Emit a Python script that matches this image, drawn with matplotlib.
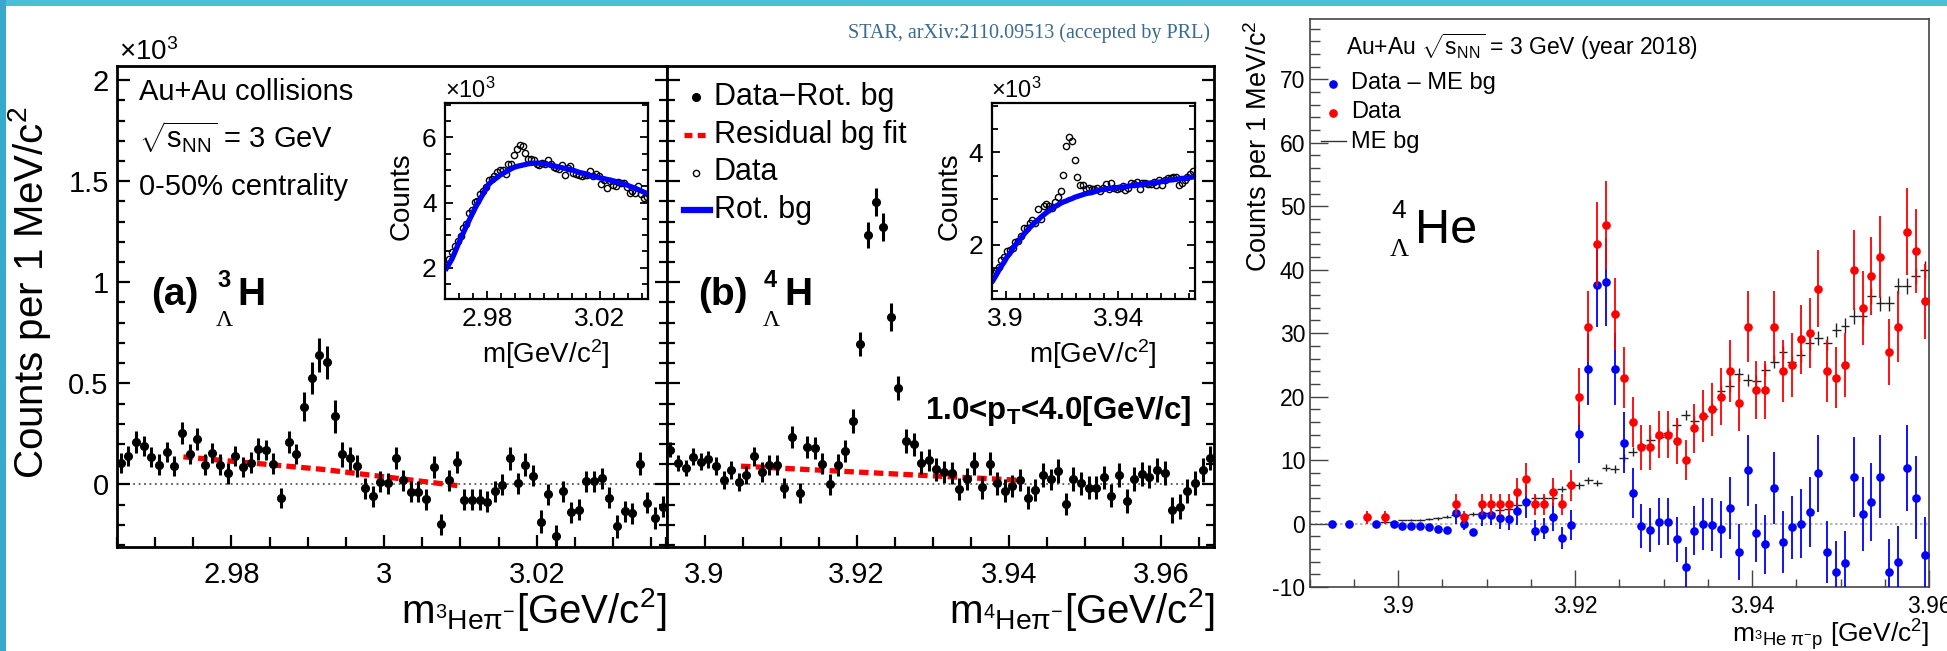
import numpy as np
import matplotlib
matplotlib.use("Agg")
import matplotlib.pyplot as plt
from matplotlib.ticker import MultipleLocator, FixedLocator, FuncFormatter
from matplotlib.patches import Rectangle
from matplotlib.lines import Line2D

plt.rcParams['font.family'] = ['Liberation Sans', 'DejaVu Sans']
plt.rcParams['mathtext.fontset'] = 'custom'
plt.rcParams['mathtext.rm'] = 'Liberation Sans'
plt.rcParams['mathtext.it'] = 'Liberation Sans:italic'
plt.rcParams['mathtext.bf'] = 'Liberation Sans:bold'

W, H = 1947, 651

# ---------------- data ----------------
bin_w = 0.001

# (a) 3LH : Data - Rot. bg  (x10^3 counts per bin)
a_start = 2.9655
a_diff = [0.107, 0.14, 0.21, 0.19, 0.136, 0.098, 0.16, 0.09, 0.254, 0.152,
          0.226, 0.098, 0.157, 0.098, 0.054, 0.139, 0.087, 0.108, 0.174, 0.169,
          0.103, -0.069, 0.21, 0.152, 0.385, 0.525, 0.64, 0.603, 0.336, 0.148,
          0.128, 0.09, -0.02, -0.06, 0.013, 0.005, 0.131, 0.021, -0.036, -0.036,
          -0.074, 0.087, -0.197, 0.021, 0.111, -0.077, -0.077, -0.077, -0.085, -0.033,
          -0.003, 0.128, 0.005, 0.098, 0.043, -0.184, -0.049, -0.257, -0.033, -0.138,
          -0.126, 0.016, 0.016, 0.03, -0.066, -0.208, -0.134, -0.143, 0.103, -0.09,
          -0.167, -0.11]
a_err = [0.05, 0.05, 0.055, 0.05, 0.05, 0.05, 0.05, 0.05, 0.055, 0.05,
         0.055, 0.05, 0.05, 0.05, 0.05, 0.05, 0.05, 0.05, 0.055, 0.05,
         0.05, 0.05, 0.055, 0.05, 0.07, 0.08, 0.085, 0.08, 0.08, 0.06,
         0.055, 0.055, 0.052, 0.052, 0.052, 0.052, 0.055, 0.052, 0.052, 0.052,
         0.052, 0.055, 0.052, 0.052, 0.055, 0.052, 0.052, 0.052, 0.052, 0.052,
         0.052, 0.055, 0.052, 0.055, 0.052, 0.055, 0.052, 0.055, 0.052, 0.052,
         0.052, 0.052, 0.052, 0.052, 0.052, 0.055, 0.052, 0.052, 0.055, 0.052,
         0.055, 0.052]
a_fit_x = [2.9737, 2.992, 3.010]
a_fit_y = [0.136, 0.074, -0.008]
# inset (a): Data and Rot. bg (x10^3)
a_data = [2.09, 2.26, 2.48, 2.66, 2.82, 2.98, 3.23, 3.35, 3.69, 3.77,
          4.03, 4.06, 4.27, 4.36, 4.47, 4.70, 4.73, 4.82, 4.94, 5.01,
          4.99, 4.87, 5.20, 5.19, 5.47, 5.64, 5.77, 5.75, 5.51, 5.34,
          5.33, 5.30, 5.19, 5.15, 5.21, 5.20, 5.30, 5.17, 5.09, 5.07,
          5.02, 5.16, 4.85, 5.05, 5.12, 4.91, 4.88, 4.85, 4.83, 4.86,
          4.86, 4.96, 4.82, 4.89, 4.81, 4.57, 4.68, 4.45, 4.66, 4.53,
          4.52, 4.64, 4.61, 4.60, 4.47, 4.29, 4.34, 4.30, 4.50, 4.27,
          4.15, 4.17]
a_rot = [1.98, 2.12, 2.27, 2.47, 2.68, 2.88, 3.07, 3.26, 3.44, 3.62,
         3.80, 3.96, 4.11, 4.26, 4.42, 4.56, 4.64, 4.71, 4.77, 4.84,
         4.89, 4.94, 4.99, 5.04, 5.08, 5.11, 5.13, 5.15, 5.17, 5.19,
         5.20, 5.21, 5.21, 5.21, 5.20, 5.19, 5.17, 5.15, 5.13, 5.11,
         5.09, 5.07, 5.05, 5.03, 5.01, 4.99, 4.96, 4.93, 4.91, 4.89,
         4.86, 4.83, 4.81, 4.79, 4.77, 4.75, 4.73, 4.71, 4.69, 4.67,
         4.65, 4.62, 4.59, 4.57, 4.54, 4.50, 4.47, 4.44, 4.40, 4.36,
         4.32, 4.28]

# (b) 4LH
b_start = 3.8955
b_diff = [0.172, 0.107, 0.082, 0.136, 0.111, 0.123, 0.092, 0.021, 0.07, 0.013,
          0.046, 0.139, 0.062, 0.095, 0.095, -0.02, 0.234, -0.044, 0.185, 0.18,
          0.103, 0.0, 0.095, 0.166, 0.313, 0.694, 1.233, 1.398, 1.274, 0.827,
          0.476, 0.215, 0.198, 0.108, 0.12, 0.074, 0.062, 0.057, -0.023, 0.026,
          0.103, -0.015, 0.103, 0.005, -0.031, -0.008, 0.021, -0.066, -0.028, 0.046,
          0.026, 0.066, -0.097, 0.026, 0.005, -0.016, -0.016, 0.034, -0.056, 0.046,
          -0.082, 0.026, 0.051, 0.038, 0.07, 0.057, -0.126, -0.11, -0.033, 0.005,
          0.07, 0.131]
b_err = [0.038, 0.04, 0.04, 0.042, 0.042, 0.043, 0.044, 0.044, 0.045, 0.045,
         0.046, 0.048, 0.048, 0.05, 0.05, 0.05, 0.055, 0.05, 0.053, 0.053,
         0.053, 0.053, 0.055, 0.055, 0.06, 0.06, 0.065, 0.07, 0.068, 0.07,
         0.06, 0.058, 0.056, 0.056, 0.056, 0.056, 0.056, 0.056, 0.056, 0.056,
         0.058, 0.056, 0.058, 0.056, 0.056, 0.056, 0.056, 0.056, 0.056, 0.058,
         0.052, 0.058, 0.056, 0.058, 0.058, 0.058, 0.058, 0.058, 0.058, 0.058,
         0.058, 0.058, 0.058, 0.058, 0.058, 0.058, 0.065, 0.06, 0.06, 0.06,
         0.06, 0.06]
b_fit_x = [3.9048, 3.941]
b_fit_y = [0.09, 0.021]
b_data = [1.40, 1.44, 1.52, 1.68, 1.74, 1.86, 1.90, 1.94, 2.07, 2.09,
          2.20, 2.37, 2.36, 2.47, 2.53, 2.47, 2.77, 2.56, 2.84, 2.88,
          2.84, 2.79, 2.93, 3.03, 3.16, 3.52, 4.13, 4.33, 4.25, 3.83,
          3.48, 3.29, 3.29, 3.22, 3.24, 3.20, 3.21, 3.23, 3.17, 3.23,
          3.31, 3.21, 3.33, 3.24, 3.21, 3.24, 3.27, 3.19, 3.24, 3.33,
          3.32, 3.37, 3.20, 3.34, 3.33, 3.31, 3.32, 3.37, 3.29, 3.41,
          3.29, 3.41, 3.44, 3.45, 3.48, 3.48, 3.30, 3.33, 3.41, 3.46,
          3.53, 3.60]
b_rot = [1.23, 1.33, 1.44, 1.54, 1.63, 1.74, 1.81, 1.92, 2.00, 2.08,
         2.15, 2.23, 2.30, 2.37, 2.43, 2.49, 2.54, 2.60, 2.65, 2.70,
         2.74, 2.79, 2.83, 2.86, 2.90, 2.93, 2.95, 2.98, 3.00, 3.03,
         3.05, 3.07, 3.09, 3.11, 3.12, 3.13, 3.15, 3.17, 3.19, 3.20,
         3.21, 3.22, 3.23, 3.23, 3.24, 3.25, 3.25, 3.26, 3.27, 3.28,
         3.29, 3.30, 3.30, 3.31, 3.32, 3.33, 3.34, 3.34, 3.35, 3.36,
         3.37, 3.38, 3.39, 3.41, 3.41, 3.42, 3.43, 3.44, 3.44, 3.45,
         3.46, 3.47]

# right: 4LHe, counts per 1 MeV
r_start = 3.8925
r_data = [None, None, None, None, 1, None, 1, None, None, None,
          None, None, None, None, 3, 1, None, 3, 3, 3,
          3, 5, 7, 3, 3, 5, 3, 6, 20, 31,
          44, 47, 33, 23, 16, 12, 12, 14, 14, 13,
          10, 15, 17, 18, 20, 24, 19, 31, 21, 21,
          31, 24, 25, 29, 30, 37, 24, 23, 25, 40,
          34, 39, 42, 27, 31, 46, 43, 35]
r_sub = [0, None, 0, None, None, 0, None, -0.1, -0.4, -0.4,
         -0.4, -0.6, -0.8, -1.0, 1.7, 0, -1.4, 1.3, 1.4, 0.8,
         0.7, 2.0, 3.4, -1.1, -0.8, 1.0, -2.3, -0.2, 14.1, 24.3,
         37.6, 38.1, 24.3, 12.7, 4.8, -0.4, -1.0, 0.3, 0.3, -2.5,
         -6.9, -1.1, 0, -0.2, -0.9, 2.5, -4.5, 8.4, -1.5, -3.3,
         5.6, -2.9, -0.6, 0, 1.8, 7.9, -4.5, -7.6, -6.2, 7.4,
         1.5, 3.4, 7.4, -7.6, -6.0, 8.7, 4.1, -4.9]
r_err = [0.1, 0, 0.1, 0, 1.0, 0.2, 1.0, 0.3, 0.3, 0.3,
         0.3, 0.3, 0.4, 0.4, 1.7, 1.0, 0.5, 1.7, 1.7, 1.7,
         1.7, 2.2, 2.6, 1.7, 1.7, 2.2, 1.7, 2.4, 4.5, 5.6,
         6.6, 6.9, 5.7, 4.8, 4.0, 3.5, 3.5, 3.7, 3.7, 3.6,
         3.2, 3.9, 4.1, 4.2, 4.5, 4.9, 4.4, 5.6, 4.6, 4.6,
         5.6, 4.9, 5.0, 5.4, 5.5, 6.1, 4.9, 4.8, 5.0, 6.3,
         5.8, 6.2, 6.5, 5.2, 5.6, 6.8, 6.6, 5.9]
r_me = [None, None, None, None, None, None, 0.2, 0.3, 0.5, 0.6,
        0.6, 0.7, 0.8, 1.1, 1.3, 1.4, 1.5, 1.6, 1.7, 2.1,
        2.3, 2.9, 3.5, 4.1, 4.0, 4.1, 5.4, 6.0, 6.0, 6.8,
        6.4, 8.8, 8.6, 10.3, 11.3, 12.3, 13.1, 13.6, 14.2, 15.6,
        17.1, 16.2, 17.0, 18.1, 20.9, 21.7, 23.5, 22.6, 22.5, 24.2,
        25.5, 27.0, 25.4, 26.5, 28.4, 29.2, 28.5, 30.5, 31.2, 32.7,
        32.7, 35.8, 34.7, 34.7, 37.4, 37.4, 39.0, 40.0]
r_me_err = [0, 0, 0, 0, 0, 0, 0.1, 0.1, 0.1, 0.15,
            0.15, 0.15, 0.2, 0.2, 0.2, 0.2, 0.25, 0.25, 0.25, 0.3,
            0.3, 0.35, 0.4, 0.4, 0.4, 0.4, 0.5, 0.5, 0.5, 0.55,
            0.5, 0.6, 0.6, 0.65, 0.7, 0.7, 0.75, 0.75, 0.8, 0.8,
            0.85, 0.8, 0.85, 0.85, 0.9, 0.95, 1.0, 0.95, 0.95, 1.0,
            1.0, 1.05, 1.0, 1.05, 1.1, 1.1, 1.1, 1.15, 1.15, 1.2,
            1.2, 1.25, 1.2, 1.2, 1.3, 1.3, 1.3, 1.35]

a_x = a_start + bin_w * np.arange(len(a_diff))
b_x = b_start + bin_w * np.arange(len(b_diff))
r_x = r_start + bin_w * np.arange(len(r_data))


def arr(v):
    return np.array(v, dtype=float)


def rect(x0, y0, x1, y1):
    return [x0 / W, 1 - y1 / H, (x1 - x0) / W, (y1 - y0) / H]


fig = plt.figure(figsize=(W / 100, H / 100), dpi=100)
fig.patch.set_facecolor('white')


def ftext(x, y, s, **kw):
    kw.setdefault('va', 'baseline')
    return fig.text(x / W, 1 - y / H, s, **kw)


def fline(xs, ys, **kw):
    fig.add_artist(Line2D([v / W for v in xs], [1 - v / H for v in ys],
                          transform=fig.transFigure, **kw))


# slide frame
fig.add_artist(Rectangle((0, 1 - 6 / H), 1, 6 / H, transform=fig.transFigure,
                         color='#48bfd6', lw=0))
fig.add_artist(Rectangle((0, 0), 6 / W, 1, transform=fig.transFigure,
                         color='#36aacb', lw=0))

gfmt = FuncFormatter(lambda v, p: f'{v:g}')

# ---------------- main panels ----------------
axA = fig.add_axes(rect(117, 66, 666.5, 547))
axB = fig.add_axes(rect(666.5, 66, 1214, 547))
for ax, x, d, e, fx, fy, lim, maj in [
        (axA, a_x, a_diff, a_err, a_fit_x, a_fit_y, (2.965, 3.037), [2.98, 3.0, 3.02]),
        (axB, b_x, b_diff, b_err, b_fit_x, b_fit_y, (3.895, 3.967), [3.9, 3.92, 3.94, 3.96])]:
    ax.axhline(0, color='#555555', ls=(0, (1, 2)), lw=1.3, zorder=1)
    ax.plot(fx, fy, color='#ff0000', lw=3.8, dashes=(1.8, 1.0), zorder=2)
    ax.errorbar(x, d, yerr=e, fmt='o', color='k', ms=5.5, elinewidth=2.2,
                capsize=0, zorder=3)
    ax.set_xlim(*lim)
    ax.set_ylim(-0.31, 2.07)
    ax.xaxis.set_major_locator(FixedLocator(maj))
    ax.xaxis.set_minor_locator(MultipleLocator(0.005))
    ax.yaxis.set_major_locator(MultipleLocator(0.5))
    ax.yaxis.set_minor_locator(MultipleLocator(0.1))
    ax.xaxis.set_major_formatter(gfmt)
    ax.yaxis.set_major_formatter(gfmt)
    ax.tick_params(which='both', direction='in', width=1.6, left=True, right=True,
                   top=False, labelsize=21)
    ax.tick_params(axis='y', which='major', length=9, pad=6)
    ax.tick_params(axis='y', which='minor', length=6)
    ax.tick_params(axis='x', which='major', length=9, pad=10)
    ax.tick_params(axis='x', which='minor', length=7)
    for s in ax.spines.values():
        s.set_linewidth(2)
axB.tick_params(axis='y', labelleft=False)

ftext(119, 60, r'$\times$10$^{3}$', fontsize=20)
ftext(30, 293, r'Counts per 1 MeV/c$^{2}$', fontsize=29, rotation=90,
      ha='center', va='center')
ftext(666, 623, r'm$_{{}^{3}\mathrm{He}\mathrm{\pi}^{-}}$[GeV/c$^{2}$]', fontsize=29, ha='right')
ftext(1214, 623, r'm$_{{}^{4}\mathrm{He}\mathrm{\pi}^{-}}$[GeV/c$^{2}$]', fontsize=29, ha='right')

ftext(139, 100, 'Au+Au collisions', fontsize=21)
ftext(139, 148, r'$\sqrt{\mathrm{s}_{\mathrm{NN}}}$ = 3 GeV', fontsize=21)
ftext(139, 195, '0-50% centrality', fontsize=21)

for x0, lab, sup in [(151, '(a)', '3'), (698, '(b)', '4')]:
    ftext(x0, 305, lab, fontsize=28, fontweight='bold')
    ftext(x0 + 66, 287, sup, fontsize=17, fontweight='bold')
    ftext(x0 + 65, 326, '\u039b', fontsize=17, family='Liberation Serif')
    ftext(x0 + 86, 305, 'H', fontsize=28, fontweight='bold')

ftext(1192, 419, r'1.0<p$_{\mathbf{T}}$<4.0[GeV/c]', fontsize=22.5,
      fontweight='bold', ha='right')
ftext(848, 38, 'STAR, arXiv:2110.09513 (accepted by PRL)', fontsize=14.5,
      family='Liberation Serif', color='#3a6a8c')

# legend of panel (b)
fline([696], [97], marker='o', color='k', ms=5.5, ls='none')
fline([684, 707], [135, 135], color='#ff0000', lw=3.8, dashes=(1.5, 1.0))
fline([696], [173], marker='o', mfc='none', mec='k', ms=4.5, mew=1, ls='none')
fline([684, 710], [210, 210], color='#0000ff', lw=4.5)
ftext(714, 105, 'Data\u2212Rot. bg', fontsize=22)
ftext(714, 143, 'Residual bg fit', fontsize=22)
ftext(714, 180, 'Data', fontsize=22)
ftext(714, 218, 'Rot. bg', fontsize=22)

# ---------------- insets ----------------
insA = fig.add_axes(rect(445, 103, 648, 298.5))
insB = fig.add_axes(rect(991.5, 103, 1194.5, 299))
for ax, x, d, r, lim, ylim, maj, cx, ylx in [
        (insA, a_x, a_data, a_rot, (2.965, 3.037), (1.05, 7.06), [2.98, 3.02], 546, 402),
        (insB, b_x, b_data, b_rot, (3.895, 3.967), (0.83, 5.07), [3.9, 3.94], 1093, 950)]:
    ax.plot(x, d, 'o', mfc='none', mec='k', ms=4.5, mew=1)
    ax.plot(x, r, color='#0000ff', lw=3.8)
    ax.set_xlim(*lim)
    ax.set_ylim(*ylim)
    ax.xaxis.set_major_locator(FixedLocator(maj))
    ax.xaxis.set_minor_locator(MultipleLocator(0.005))
    ax.yaxis.set_major_locator(MultipleLocator(2))
    ax.yaxis.set_minor_locator(MultipleLocator(0.5))
    ax.xaxis.set_major_formatter(gfmt)
    ax.yaxis.set_major_formatter(gfmt)
    ax.tick_params(which='both', direction='in', width=1.3, left=True, right=True,
                   top=False, labelsize=19)
    ax.tick_params(which='major', length=6, pad=6)
    ax.tick_params(which='minor', length=4)
    for s in ax.spines.values():
        s.set_linewidth(1.6)
    ftext(cx, 363, r'm[GeV/c$^{2}$]', fontsize=20, ha='center')
    ftext(ylx, 196, 'Counts', fontsize=20, rotation=90, ha='center', va='center')
ftext(445, 98, r'$\times$10$^{3}$', fontsize=17)
ftext(991, 98, r'$\times$10$^{3}$', fontsize=17)

# ---------------- right panel ----------------
axR = fig.add_axes(rect(1309.5, 19, 1929, 587))
axR.axhline(0, color='#aaaaaa', ls=(0, (1.5, 1.5)), lw=1.2, zorder=1)
axR.errorbar(r_x, arr(r_me), xerr=bin_w / 2, yerr=arr(r_me_err), fmt='none',
             ecolor='#222222', elinewidth=1.0, capsize=0, zorder=2)
axR.errorbar(r_x, arr(r_sub), yerr=arr(r_err), fmt='o', color='#0000ff', ms=5.2,
             elinewidth=1.3, capsize=0, zorder=3)
axR.errorbar(r_x, arr(r_data), yerr=arr(r_err), fmt='o', color='#ff0000', ms=5.2,
             elinewidth=1.3, capsize=0, zorder=4)
axR.set_xlim(3.89, 3.96)
axR.set_ylim(-10, 79.5)
axR.xaxis.set_major_locator(FixedLocator([3.9, 3.92, 3.94, 3.96]))
axR.xaxis.set_minor_locator(MultipleLocator(0.005))
axR.yaxis.set_major_locator(MultipleLocator(10))
axR.yaxis.set_minor_locator(MultipleLocator(2))
axR.xaxis.set_major_formatter(gfmt)
axR.yaxis.set_major_formatter(gfmt)
axR.tick_params(which='both', direction='in', top=False, right=False,
                color='#444444', width=1, labelsize=16.5)
axR.tick_params(axis='y', which='major', length=13, pad=3)
axR.tick_params(axis='y', which='minor', length=7)
axR.tick_params(axis='x', which='major', length=12, pad=6)
axR.tick_params(axis='x', which='minor', length=6)
for s in axR.spines.values():
    s.set_linewidth(1.2)
    s.set_color('#444444')

ftext(1258, 20, r'Counts per 1 MeV/c$^{2}$', fontsize=19.5, rotation=90,
      ha='center', va='top')
ftext(1929, 642, r'm$_{{}^{3}\mathrm{He}\ \mathrm{\pi}^{-}\mathrm{p}}$ [GeV/c$^{2}$]',
      fontsize=19, ha='right')
ftext(1346, 55, r'Au+Au $\sqrt{\mathrm{s}_{\mathrm{NN}}}$ = 3 GeV (year 2018)',
      fontsize=16.5)
fline([1333], [84], marker='o', color='#0000ff', ms=5.2, ls='none')
fline([1333], [113], marker='o', color='#ff0000', ms=5.2, ls='none')
fline([1321, 1346], [141, 141], color='#333333', lw=1)
ftext(1351, 89, 'Data \u2013 ME bg', fontsize=17)
ftext(1351, 118, 'Data', fontsize=17)
ftext(1351, 148, 'ME bg', fontsize=17)

ftext(1391, 218, '4', fontsize=19)
ftext(1390, 256, '\u039b', fontsize=19, family='Liberation Serif')
ftext(1415, 243, 'He', fontsize=35)

fig.savefig('out.png', dpi=100)
